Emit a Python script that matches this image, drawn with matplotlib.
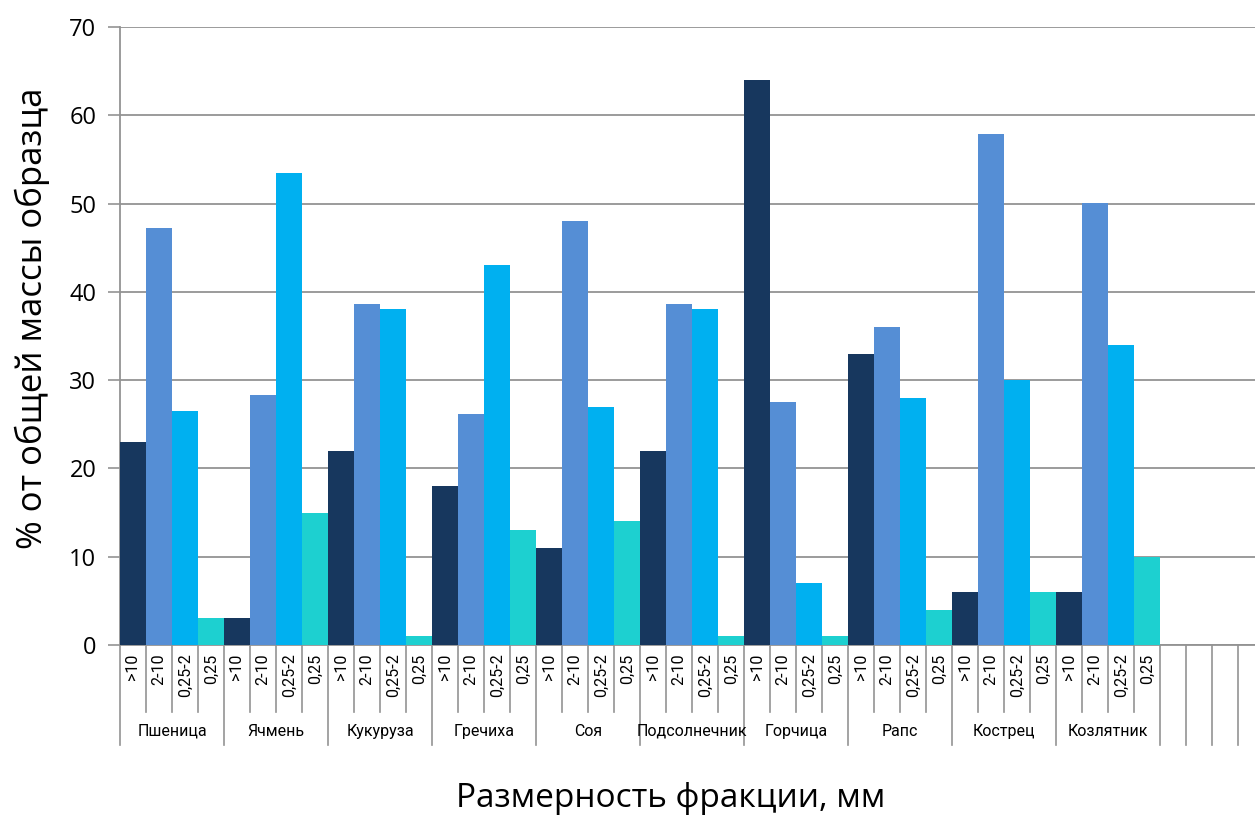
import numpy as np
import matplotlib
matplotlib.use('Agg')
import matplotlib.pyplot as plt
import matplotlib.transforms as mtransforms

crops = ['Пшеница', 'Ячмень', 'Кукуруза', 'Гречиха', 'Соя',
         'Подсолнечник', 'Горчица', 'Рапс', 'Кострец', 'Козлятник']
fractions = ['>10', '2-10', '0,25-2', '0,25']

# % of sample mass per fraction, one list per fraction
frac_gt10 = [23, 3, 22, 18, 11, 22, 64, 33, 6, 6]
frac_2_10 = [47.2, 28.3, 38.6, 26.2, 48, 38.6, 27.5, 36, 57.9, 50.1]
frac_025_2 = [26.5, 53.4, 38, 43, 27, 38, 7, 28, 30, 34]
frac_025 = [3, 15, 1, 13, 14, 1, 1, 4, 6, 10]

colors = ['#17375E', '#558ED5', '#00B0F0', '#1DD0D0']
n_empty = 3   # empty category slots after the last crop

plt.rcParams['font.family'] = ['Open Sans', 'DejaVu Sans']
narrow = ['Roboto', 'DejaVu Sans']

fig = plt.figure(figsize=(12.55, 8.16), dpi=100)
ax = fig.add_axes([0.0956, 0.2096, 0.9044, 0.7574])

series = [frac_gt10, frac_2_10, frac_025_2, frac_025]
nf = len(fractions)
for j, vals in enumerate(series):
    x = np.arange(len(crops)) * nf + j
    ax.bar(x, vals, width=1.0, color=colors[j], zorder=3)

n_slots = len(crops) * nf + n_empty
ax.set_xlim(-0.5, n_slots + 0.15)
ax.set_ylim(0, 70)
ax.set_yticks(range(0, 71, 10))
ax.yaxis.grid(True, color='#939393', linewidth=1.3, zorder=0)
ax.set_axisbelow(True)
ax.tick_params(axis='y', labelsize=17, length=9, width=1.2, color='#939393', pad=8)
ax.set_xticks([])
for s in ['top', 'right']:
    ax.spines[s].set_visible(False)
for s in ['left', 'bottom']:
    ax.spines[s].set_color('#939393')
    ax.spines[s].set_linewidth(1.3)

# two-level category axis
tr = mtransforms.blended_transform_factory(ax.transData, ax.transAxes)
y_short, y_long = -0.108, -0.162
for i in range(len(crops) * nf + n_empty + 1):
    xb = i - 0.5
    long_line = (i % nf == 0) or i >= len(crops) * nf
    ax.plot([xb, xb], [0, y_long if long_line else y_short], transform=tr,
            color='#939393', linewidth=1.2, clip_on=False)
for g, crop in enumerate(crops):
    for j, fr in enumerate(fractions):
        ax.text(g * nf + j, -0.014, fr, transform=tr, rotation=90,
                ha='center', va='top', fontsize=11.5, family=narrow)
    ax.text(g * nf + (nf - 1) / 2, -0.14, crop, transform=tr,
            ha='center', va='center', fontsize=11.5, family=narrow)

fig.text(0.534, 0.022, 'Размерность фракции, мм', ha='center', va='center', fontsize=24)
fig.text(0.026, 0.61, '% от общей массы образца', ha='center', va='center',
         rotation=90, fontsize=25)

fig.savefig('out.png', dpi=100)
